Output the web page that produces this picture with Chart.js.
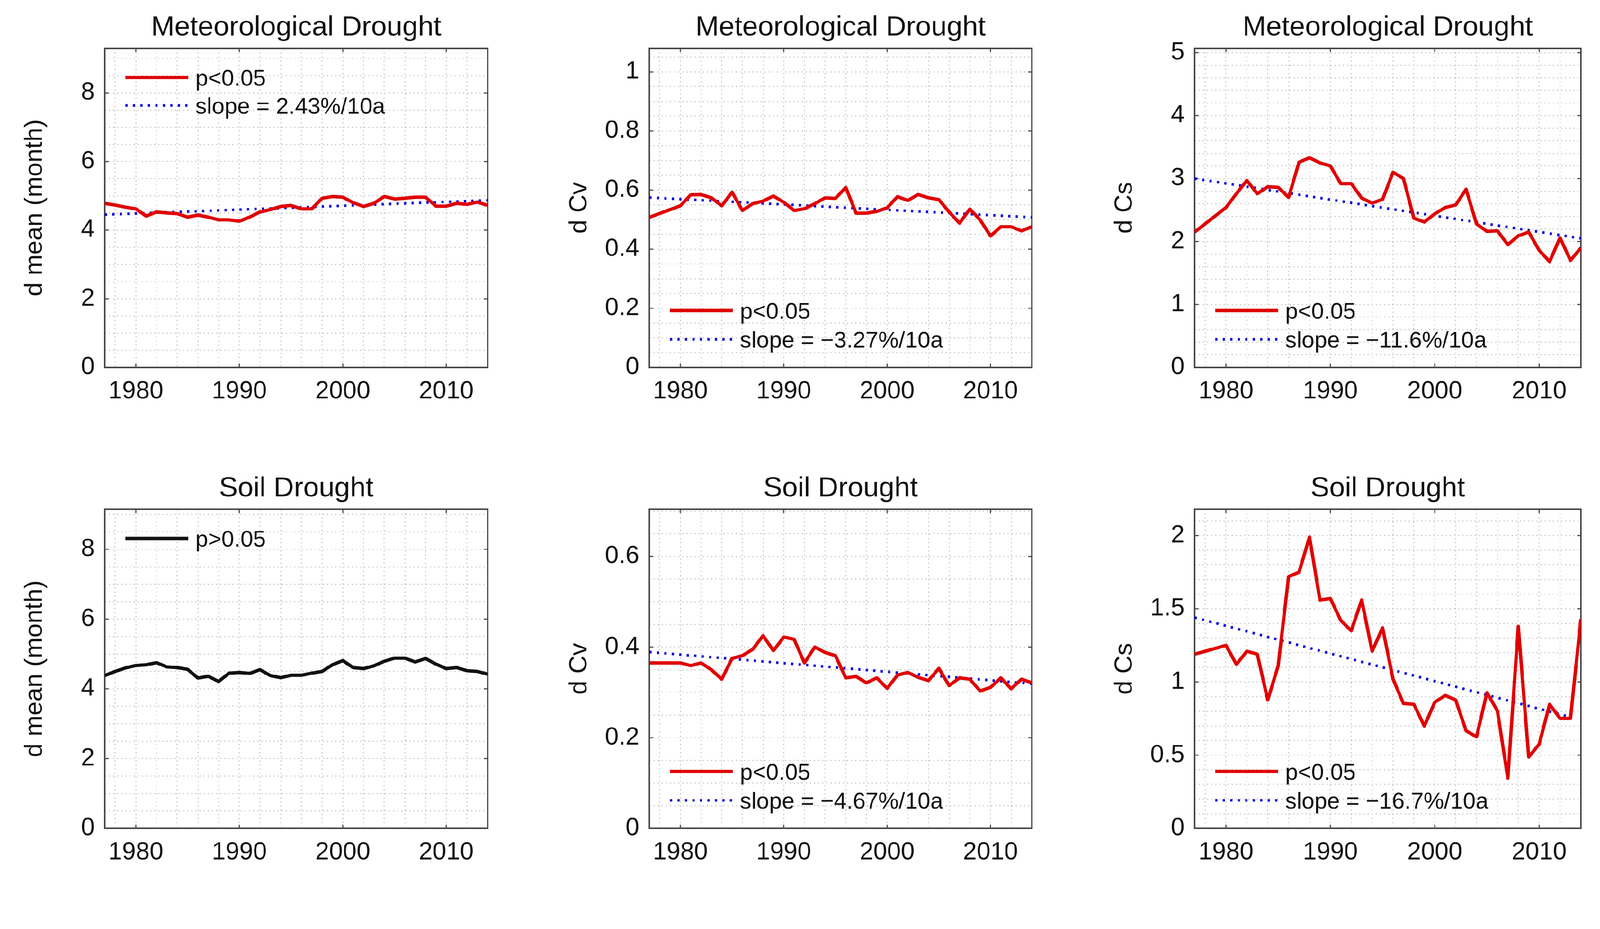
<!DOCTYPE html>
<html>
<head>
<meta charset="utf-8">
<title>Drought d mean / Cv / Cs</title>
<script src="https://cdn.jsdelivr.net/npm/chart.js@4.4.1/dist/chart.umd.min.js"></script>
<style>
  html, body { margin: 0; padding: 0; background: #fff; overflow: hidden; }
  body { width: 100vw; height: 100vh; }
  #page { position: absolute; left: 0; top: 0; width: 4275px; height: 2379px; transform-origin: 0 0; background: #fff; }
  canvas { position: absolute; }
</style>
</head>
<body>
<div id="page">
  <canvas id="c1"></canvas>
  <canvas id="c2"></canvas>
  <canvas id="c3"></canvas>
  <canvas id="c4"></canvas>
  <canvas id="c5"></canvas>
  <canvas id="c6"></canvas>
</div>
<script>
// --- Data ---
const years = [1977, 1978, 1979, 1980, 1981, 1982, 1983, 1984, 1985, 1986,
               1987, 1988, 1989, 1990, 1991, 1992, 1993, 1994, 1995, 1996,
               1997, 1998, 1999, 2000, 2001, 2002, 2003, 2004, 2005, 2006,
               2007, 2008, 2009, 2010, 2011, 2012, 2013, 2014];

const metMean = [4.78, 4.73, 4.67, 4.62, 4.41, 4.53, 4.50, 4.48, 4.38, 4.44,
                 4.38, 4.30, 4.30, 4.26, 4.38, 4.53, 4.60, 4.69, 4.72, 4.62,
                 4.62, 4.93, 4.98, 4.96, 4.80, 4.69, 4.78, 4.98, 4.91, 4.93,
                 4.96, 4.96, 4.70, 4.70, 4.78, 4.75, 4.82, 4.72];
const metCv = [0.508, 0.521, 0.534, 0.547, 0.584, 0.585, 0.574, 0.547, 0.593, 0.531,
               0.554, 0.563, 0.580, 0.559, 0.531, 0.537, 0.554, 0.574, 0.572, 0.609,
               0.522, 0.522, 0.528, 0.540, 0.578, 0.565, 0.585, 0.574, 0.568, 0.526,
               0.488, 0.536, 0.499, 0.445, 0.476, 0.476, 0.462, 0.476];
const metCs = [2.15, 2.28, 2.41, 2.54, 2.76, 2.97, 2.76, 2.87, 2.86, 2.70,
               3.26, 3.33, 3.25, 3.20, 2.92, 2.92, 2.69, 2.61, 2.67, 3.10,
               3.00, 2.37, 2.31, 2.44, 2.54, 2.58, 2.83, 2.28, 2.16, 2.17,
               1.95, 2.09, 2.15, 1.86, 1.68, 2.06, 1.70, 1.90];
const soilMean = [4.38, 4.50, 4.60, 4.67, 4.69, 4.75, 4.63, 4.61, 4.56, 4.31,
                  4.36, 4.21, 4.45, 4.47, 4.44, 4.55, 4.38, 4.32, 4.39, 4.39,
                  4.45, 4.50, 4.69, 4.81, 4.61, 4.58, 4.66, 4.79, 4.88, 4.88,
                  4.77, 4.87, 4.71, 4.58, 4.61, 4.52, 4.50, 4.42];
const soilCv = [0.365, 0.365, 0.365, 0.365, 0.359, 0.365, 0.350, 0.329, 0.375, 0.381,
                0.395, 0.425, 0.392, 0.422, 0.417, 0.365, 0.400, 0.388, 0.381, 0.332,
                0.335, 0.321, 0.332, 0.309, 0.338, 0.344, 0.333, 0.326, 0.353, 0.315,
                0.332, 0.329, 0.303, 0.311, 0.332, 0.308, 0.329, 0.321];
const soilCs = [1.19, 1.21, 1.23, 1.25, 1.12, 1.21, 1.19, 0.877, 1.11, 1.72,
                1.75, 1.99, 1.56, 1.57, 1.42, 1.35, 1.56, 1.21, 1.37, 1.02,
                0.853, 0.847, 0.699, 0.862, 0.908, 0.877, 0.667, 0.625, 0.927, 0.803,
                0.343, 1.38, 0.487, 0.575, 0.847, 0.751, 0.751, 1.43];

// linear trend end points
const trendYears = [1977, 2014];
const soilCsTrendYears = [1977, 2013];
const metMeanTrend = [4.45, 4.87];
const metCvTrend = [0.575, 0.508];
const metCsTrend = [3.00, 2.05];
const soilCvTrend = [0.389, 0.319];
const soilCsTrend = [1.44, 0.76];

// tick labels
const xTicks = [1980, 1990, 2000, 2010];
const meanTicks = [0, 2, 4, 6, 8];
const metCvTicks = [0, 0.2, 0.4, 0.6, 0.8, 1];
const metCsTicks = [0, 1, 2, 3, 4, 5];
const soilCvTicks = [0, 0.2, 0.4, 0.6];
const soilCsTicks = [0, 0.5, 1, 1.5, 2];

// --- Look ---
const FONT = "'Liberation Sans', Arial, Helvetica, sans-serif";
const TEXT_COLOR = '#111111';
const FRAME_COLOR = '#474747';
const GRID_COLOR = '#bdbdbd';
const RED = '#e00000';
const BLACK = '#111111';
const BLUE = '#0000dc';
const TICK_LEN = 10;

// axes boxes on the 4275 x 2379 page (px)
const PAGE_W = 4275, PAGE_H = 2379;
const cols = [{ left: 280, width: 1023 }, { left: 1735, width: 1022 }, { left: 3192, width: 1032 }];
const rows = [127, 1359];
const PLOT_H = 855;
const Y_SCALE_W = 260, X_SCALE_H = 140, TOP_SPACE = 127, RIGHT_PAD = 40;

const panels = [
  { id: 'c1', col: 0, row: 0, title: 'Meteorological Drought', yTitle: 'd mean (month)',
    values: metMean, color: RED, pText: 'p<0.05', trendX: trendYears, trendY: metMeanTrend,
    slope: 'slope = 2.43%/10a', yMax: 9.3, yTicks: meanTicks, yMinor: 0.5, corner: 'top' },
  { id: 'c2', col: 1, row: 0, title: 'Meteorological Drought', yTitle: 'd Cv',
    values: metCv, color: RED, pText: 'p<0.05', trendX: trendYears, trendY: metCvTrend,
    slope: 'slope = \u22123.27%/10a', yMax: 1.08, yTicks: metCvTicks, yMinor: 0.05, corner: 'bottom' },
  { id: 'c3', col: 2, row: 0, title: 'Meteorological Drought', yTitle: 'd Cs',
    values: metCs, color: RED, pText: 'p<0.05', trendX: trendYears, trendY: metCsTrend,
    slope: 'slope = \u221211.6%/10a', yMax: 5.07, yTicks: metCsTicks, yMinor: 0.2, corner: 'bottom' },
  { id: 'c4', col: 0, row: 1, title: 'Soil Drought', yTitle: 'd mean (month)',
    values: soilMean, color: BLACK, pText: 'p>0.05', trendX: null, trendY: null,
    slope: null, yMax: 9.15, yTicks: meanTicks, yMinor: 0.5, corner: 'top' },
  { id: 'c5', col: 1, row: 1, title: 'Soil Drought', yTitle: 'd Cv',
    values: soilCv, color: RED, pText: 'p<0.05', trendX: trendYears, trendY: soilCvTrend,
    slope: 'slope = \u22124.67%/10a', yMax: 0.704, yTicks: soilCvTicks, yMinor: 0.05, corner: 'bottom' },
  { id: 'c6', col: 2, row: 1, title: 'Soil Drought', yTitle: 'd Cs',
    values: soilCs, color: RED, pText: 'p<0.05', trendX: soilCsTrendYears, trendY: soilCsTrend,
    slope: 'slope = \u221216.7%/10a', yMax: 2.18, yTicks: soilCsTicks, yMinor: 0.1, corner: 'bottom' }
];

// --- Fit the 4275-wide page into whatever viewport we get ---
const fit = Math.min(window.innerWidth / PAGE_W, window.innerHeight / PAGE_H);
if (fit > 0 && Math.abs(fit - 1) > 0.002) {
  document.getElementById('page').style.transform = 'scale(' + fit + ')';
}

// --- Helpers ---
function points(xs, ys) {
  return xs.map((x, i) => ({ x: x, y: ys[i] }));
}

// grid positions every `step`, flag the labelled ones
function gridValues(min, max, step, majors) {
  const out = [];
  for (let k = Math.ceil(min / step - 1e-9); k * step <= max + 1e-9; k++) {
    const v = Math.round(k * step * 1e6) / 1e6;
    out.push({ value: v, main: majors.some(m => Math.abs(m - v) < 1e-6) });
  }
  return out;
}

function tickLabel(value, index, ticks) {
  return ticks[index] && ticks[index].main ? String(ticks[index].value) : '';
}

// --- Plugins: boxed frame with inward ticks, legend inside the axes ---
const frameTicks = {
  id: 'frameTicks',
  beforeDatasetsDraw(chart) {
    const { ctx, chartArea: a, scales: { x, y } } = chart;
    ctx.save();
    ctx.strokeStyle = FRAME_COLOR;
    ctx.setLineDash([]);
    ctx.lineWidth = 3;
    ctx.beginPath();
    x.ticks.filter(t => t.main).forEach(t => {
      const px = x.getPixelForValue(t.value);
      ctx.moveTo(px, a.bottom); ctx.lineTo(px, a.bottom - TICK_LEN);
      ctx.moveTo(px, a.top); ctx.lineTo(px, a.top + TICK_LEN);
    });
    y.ticks.filter(t => t.main).forEach(t => {
      const py = y.getPixelForValue(t.value);
      ctx.moveTo(a.left, py); ctx.lineTo(a.left + TICK_LEN, py);
      ctx.moveTo(a.right, py); ctx.lineTo(a.right - TICK_LEN, py);
    });
    ctx.stroke();
    ctx.lineWidth = 4;
    ctx.strokeRect(a.left, a.top, a.right - a.left, a.bottom - a.top);
    ctx.restore();
  }
};

const boxLegend = {
  id: 'boxLegend',
  afterDatasetsDraw(chart, args, opts) {
    const { ctx, chartArea: a } = chart;
    const sets = chart.data.datasets;
    ctx.save();
    ctx.font = '61px ' + FONT;
    ctx.textBaseline = 'middle';
    ctx.fillStyle = TEXT_COLOR;
    sets.forEach((ds, i) => {
      const rowY = opts.corner === 'top'
        ? a.top + 78 + i * 75
        : a.bottom - 75 - (sets.length - 1 - i) * 77;
      ctx.strokeStyle = ds.borderColor;
      ctx.lineWidth = ds.borderWidth;
      ctx.setLineDash(ds.borderDash || []);
      ctx.beginPath();
      ctx.moveTo(a.left + 55, rowY);
      ctx.lineTo(a.left + 223, rowY);
      ctx.stroke();
      ctx.fillText(ds.label, a.left + 242, rowY + 5);
    });
    ctx.restore();
  }
};

// --- Build the six panels ---
Chart.defaults.font.family = FONT;
Chart.defaults.color = TEXT_COLOR;

function makePanel(p) {
  const canvas = document.getElementById(p.id);
  const col = cols[p.col];
  const w = col.width + Y_SCALE_W + RIGHT_PAD;
  const h = TOP_SPACE + PLOT_H + X_SCALE_H;
  canvas.width = w; canvas.height = h;
  canvas.style.width = w + 'px'; canvas.style.height = h + 'px';
  canvas.style.left = (col.left - Y_SCALE_W) + 'px';
  canvas.style.top = (rows[p.row] - TOP_SPACE) + 'px';

  const datasets = [{
    label: p.pText, data: points(years, p.values),
    borderColor: p.color, borderWidth: 9, pointRadius: 0, tension: 0,
    borderJoinStyle: 'round', borderCapStyle: 'butt'
  }];
  if (p.trendY) {
    datasets.push({
      label: p.slope, data: points(p.trendX, p.trendY),
      borderColor: BLUE, borderWidth: 7, borderDash: [6, 14], pointRadius: 0, tension: 0,
      borderCapStyle: 'butt'
    });
  }

  return new Chart(canvas, {
    type: 'line',
    data: { datasets: datasets },
    plugins: [frameTicks, boxLegend],
    options: {
      responsive: false, animation: false, devicePixelRatio: 1,
      layout: { padding: { top: 29, left: 0, right: RIGHT_PAD, bottom: 0 } },
      plugins: {
        legend: { display: false },
        tooltip: { enabled: false },
        title: {
          display: true, text: p.title, fullSize: false, color: TEXT_COLOR,
          font: { size: 75, weight: 'normal', lineHeight: 1.2 },
          padding: { top: 0, bottom: 10 }
        },
        boxLegend: { corner: p.corner }
      },
      scales: {
        x: {
          type: 'linear', min: 1977, max: 2014,
          afterBuildTicks: s => { s.ticks = gridValues(1977, 2014, 2, xTicks); },
          afterFit: s => { s.height = X_SCALE_H; },
          grid: { color: GRID_COLOR, lineWidth: 2.5, drawTicks: false },
          border: { display: false, dash: [3, 8] },
          ticks: { autoSkip: false, maxRotation: 0, minRotation: 0, padding: 25,
                   font: { size: 66 }, color: TEXT_COLOR, callback: tickLabel }
        },
        y: {
          type: 'linear', min: 0, max: p.yMax,
          afterBuildTicks: s => { s.ticks = gridValues(0, p.yMax, p.yMinor, p.yTicks); },
          afterFit: s => { s.width = Y_SCALE_W; },
          grid: { color: GRID_COLOR, lineWidth: 2.5, drawTicks: false },
          border: { display: false, dash: [3, 8] },
          ticks: { autoSkip: false, padding: 27, font: { size: 66 }, color: TEXT_COLOR,
                   callback: tickLabel },
          title: { display: true, text: p.yTitle, color: TEXT_COLOR,
                   font: { size: 67, lineHeight: 1.2 }, padding: { top: 33, bottom: 0 } }
        }
      }
    }
  });
}

panels.forEach(makePanel);
</script>
</body>
</html>
